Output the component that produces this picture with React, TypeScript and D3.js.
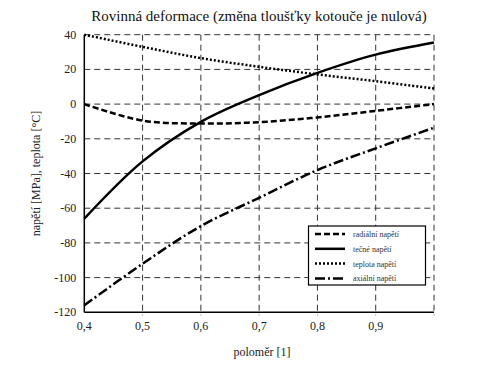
import React from 'react';
import * as d3 from 'd3';

// poloměr values
const radius = [0.4, 0.5, 0.6, 0.7, 0.8, 0.9, 1.0];
const radialStress = [0, -9.5, -11.2, -10.4, -7.7, -3.9, 0];
const tangentStress = [-66, -33, -10.2, 5.2, 18, 28.5, 35.5];
const temperature = [40, 33, 26.5, 21.5, 17.1, 13.2, 9];
const axialStress = [-116, -92, -70.3, -54, -38, -25.5, -13.6];

const xTicks = [0.4, 0.5, 0.6, 0.7, 0.8, 0.9];
const yTicks = [40, 20, 0, -20, -40, -60, -80, -100, -120];

const seriesNames = ['radiální napětí', 'tečné napětí', 'teplota napětí', 'axiální napětí'];
const dashes = ['6,3', '', '2,2', '10,3,2,3'];
const widths = [2.5, 2.5, 2.5, 2.5];

export default function App() {
  const W = 483;
  const H = 372;
  const x = d3.scaleLinear().domain([0.4, 1.0]).range([84.3, 434]);
  const y = d3.scaleLinear().domain([-120, 40]).range([312.3, 34.7]);

  const allSeries = [radialStress, tangentStress, temperature, axialStress];
  const line = d3
    .line<number>()
    .x((d, i) => x(radius[i]))
    .y((d) => y(d))
    .curve(d3.curveCatmullRom.alpha(0.5));

  const font = '"Liberation Serif", "DejaVu Serif", serif';

  return (
    <svg width={W} height={H} style={{ position: 'absolute', left: 0, top: 0 }} fontFamily={font}>
      <rect width={W} height={H} fill="#fff" />
      <text x={259} y={21} fontSize={15} textAnchor="middle" fill="#111">
        Rovinná deformace (změna tloušťky kotouče je nulová)
      </text>

      {/* gridlines */}
      {[...xTicks.slice(1), 1.0].map((t) => (
        <line key={'vx' + t} x1={x(t)} x2={x(t)} y1={y(40)} y2={y(-120) + 3}
          stroke="#333" strokeWidth={1} strokeDasharray="6,4" />
      ))}
      {yTicks.filter((t) => t !== -120).map((t) => (
        <line key={'hy' + t} x1={x(0.4)} x2={x(1.0)} y1={y(t)} y2={y(t)}
          stroke="#333" strokeWidth={1} strokeDasharray="6,4" />
      ))}

      {/* axes */}
      <line x1={x(0.4)} x2={x(0.4)} y1={y(40)} y2={y(-120)} stroke="#000" strokeWidth={1.5} />
      <line x1={x(0.4)} x2={x(1.0)} y1={y(-120)} y2={y(-120)} stroke="#000" strokeWidth={1.5} />

      {yTicks.map((t) => (
        <text key={'yl' + t} x={x(0.4) - 8} y={y(t) + 4} fontSize={12} textAnchor="end" fill="#222">
          {t}
        </text>
      ))}
      {xTicks.map((t) => (
        <text key={'xl' + t} x={x(t)} y={y(-120) + 18} fontSize={12} textAnchor="middle" fill="#222">
          {d3.format('.1f')(t).replace('.', ',')}
        </text>
      ))}

      <text x={262} y={356} fontSize={12} textAnchor="middle" fill="#222">poloměr [1]</text>
      <text transform={`translate(40,${y(-40)}) rotate(-90)`} fontSize={12} textAnchor="middle" fill="#222">
        napětí [MPa], teplota [°C]
      </text>

      {allSeries.map((s, i) => (
        <path key={'s' + i} d={line(s) || ''} fill="none" stroke="#000"
          strokeWidth={widths[i]} strokeDasharray={dashes[i] || undefined} />
      ))}

      {/* legend */}
      <g>
        <rect x={308.5} y={226} width={117} height={59} fill="#fff" stroke="#000" strokeWidth={1.2} />
        {seriesNames.map((n, i) => (
          <g key={'lg' + i} transform={`translate(0,${234 + i * 14.8})`}>
            <line x1={315} x2={345} y1={0} y2={0} stroke="#000" strokeWidth={widths[i]}
              strokeDasharray={dashes[i] || undefined} />
            <text x={353} y={3} fontSize={8} fill="#333">{n}</text>
          </g>
        ))}
      </g>
    </svg>
  );
}
